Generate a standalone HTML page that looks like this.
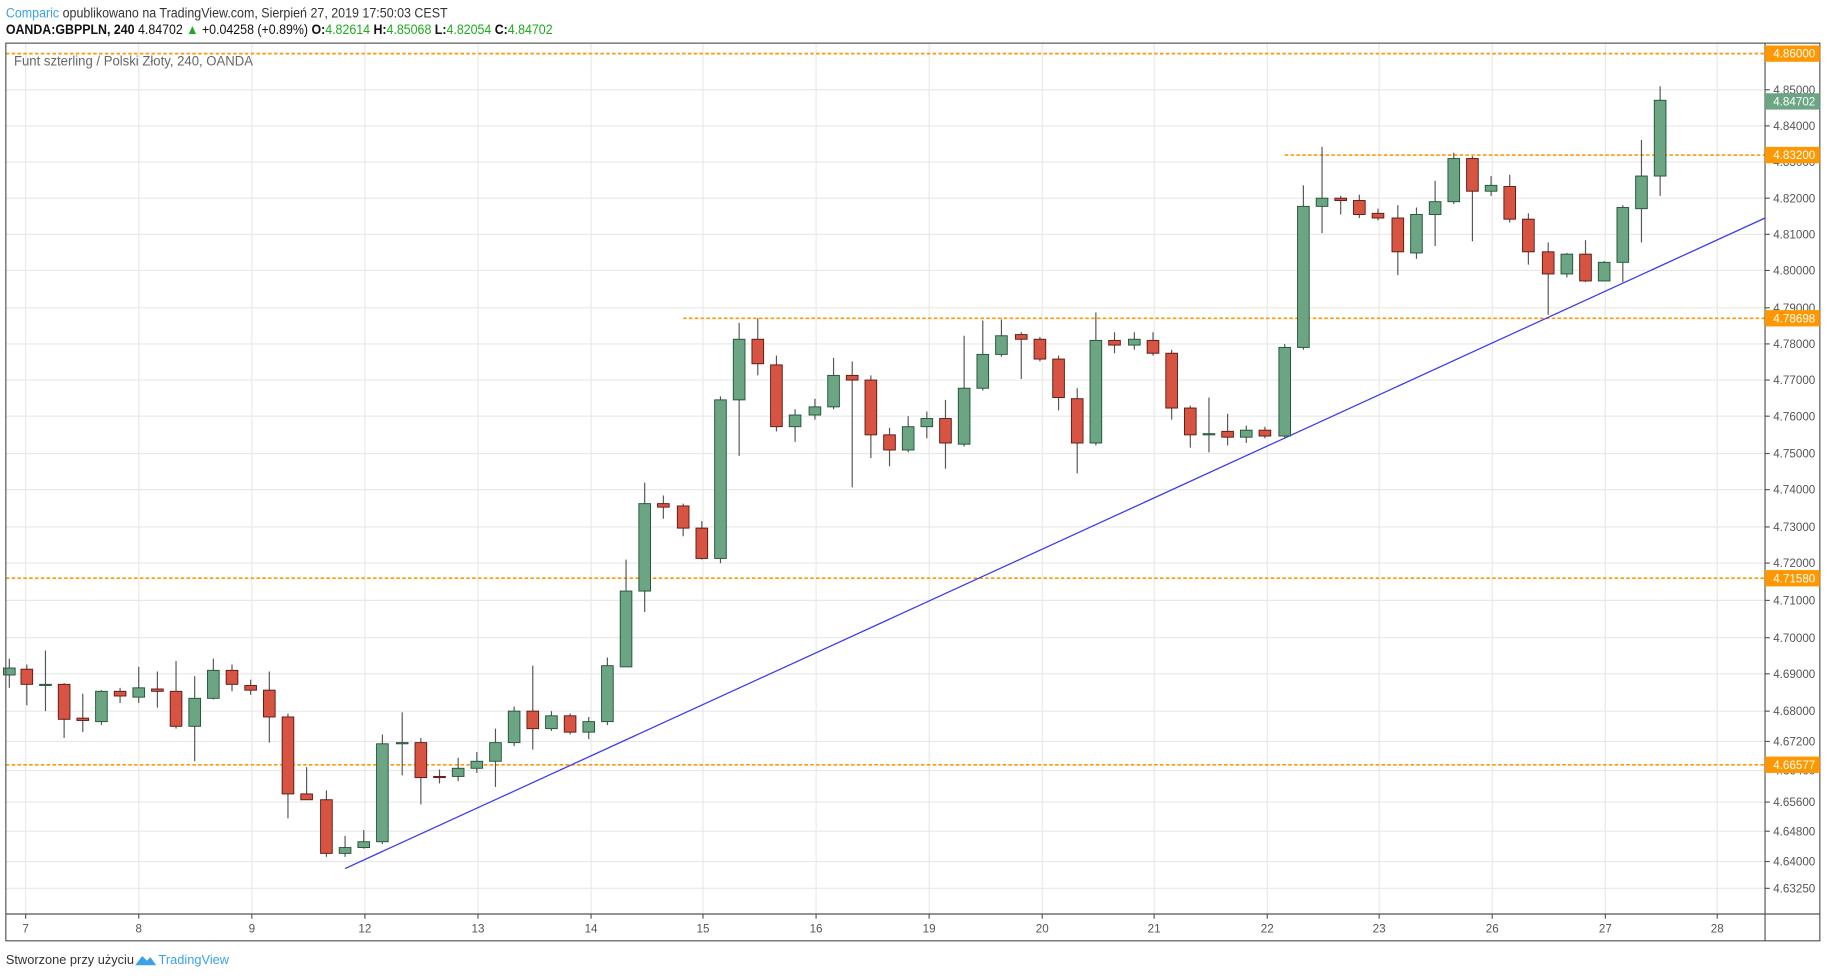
<!DOCTYPE html>
<html><head><meta charset="utf-8"><style>
html,body{margin:0;padding:0;background:#fff;width:1828px;height:978px;overflow:hidden}
svg{display:block;font-family:"Liberation Sans","DejaVu Sans",sans-serif}
</style></head><body>
<svg id="s" width="1828" height="978" viewBox="0 0 1568 838.9" xmlns="http://www.w3.org/2000/svg">
<rect width="1568" height="839" fill="#fff"/>
<g id="grid"></g>
<g id="lines"></g>
<g id="candles"></g>
<g id="axes"></g>
<text x="5" y="15" font-size="11.5" fill="#333" textLength="379" lengthAdjust="spacingAndGlyphs"><tspan fill="#3ca1e6">Comparic</tspan> opublikowano na TradingView.com, Sierpień 27, 2019 17:50:03 CEST</text>
<text x="5" y="29" font-size="11.5" fill="#111" textLength="469" lengthAdjust="spacingAndGlyphs"><tspan font-weight="bold">OANDA:GBPPLN, 240</tspan> 4.84702 <tspan fill="#1faa1f">▲</tspan> +0.04258 (+0.89%) <tspan font-weight="bold">O:</tspan><tspan fill="#1faa1f">4.82614</tspan> <tspan font-weight="bold">H:</tspan><tspan fill="#1faa1f">4.85068</tspan> <tspan font-weight="bold">L:</tspan><tspan fill="#1faa1f">4.82054</tspan> <tspan font-weight="bold">C:</tspan><tspan fill="#1faa1f">4.84702</tspan></text>
<text x="12" y="56" font-size="11.5" fill="#666" textLength="205" lengthAdjust="spacingAndGlyphs">Funt szterling / Polski Złoty, 240, OANDA</text>
<text x="5" y="827" font-size="11" fill="#333">Stworzone przy użyciu</text>
<path d="M116 828 l6 -8 l4 4 l3 -3 l5 7 z" fill="#3ca1e6"/>
<text x="136" y="827" font-size="11" fill="#3ca1e6">TradingView</text>
</svg>
<script>
const NS="http://www.w3.org/2000/svg";
function el(p,t,a,txt){const e=document.createElementNS(NS,t);for(const k in a)e.setAttribute(k,a[k]);if(txt!==undefined)e.textContent=txt;document.getElementById(p).appendChild(e);return e;}
const L=5,T=37,R=1514,B=784,AR=1561,TB=807;
const days=[[22,"7"],[119,"8"],[216,"9"],[313,"12"],[410,"13"],[507,"14"],[603,"15"],[700,"16"],[797,"19"],[894,"20"],[990,"21"],[1087,"22"],[1183,"23"],[1280,"26"],[1377,"27"],[1473,"28"]];
const prices=[[77,"4.85000"],[108,"4.84000"],[139,"4.83000"],[170,"4.82000"],[201,"4.81000"],[232,"4.80000"],[264,"4.79000"],[295,"4.78000"],[326,"4.77000"],[357,"4.76000"],[389,"4.75000"],[420,"4.74000"],[452,"4.73000"],[483,"4.72000"],[515,"4.71000"],[547,"4.70000"],[578,"4.69000"],[610,"4.68000"],[636,"4.67200"],[661,"4.66400"],[688,"4.65600"],[713,"4.64800"],[739,"4.64000"],[762,"4.63250"]];
days.forEach(d=>{el("grid","line",{x1:d[0],x2:d[0],y1:T,y2:B,stroke:"#e8e8e8","stroke-width":1});
 el("axes","line",{x1:d[0],x2:d[0],y1:B,y2:B+4,stroke:"#555"});
 el("axes","text",{x:d[0],y:800,"font-size":10,"text-anchor":"middle",fill:"#555"},d[1]);});
prices.forEach(p=>{el("grid","line",{x1:L,x2:R,y1:p[0],y2:p[0],stroke:"#e8e8e8","stroke-width":1});
 el("axes","line",{x1:R,x2:R+4,y1:p[0],y2:p[0],stroke:"#555"});
 el("axes","text",{x:R+7,y:p[0]+3.5,"font-size":10,fill:"#555"},p[1]);});
el("axes","rect",{x:L,y:T,width:AR-L,height:TB-T,fill:"none",stroke:"#555","stroke-width":1});
el("axes","line",{x1:R,x2:R,y1:T,y2:TB,stroke:"#555"});
el("axes","line",{x1:L,x2:AR,y1:B,y2:B,stroke:"#555"});
[[46,L,"4.86000"],[133,1102,"4.83200"],[273,586,"4.78698"],[496,L,"4.71580"],[656,L,"4.66577"]].forEach(o=>{
 el("lines","line",{x1:o[1],x2:R,y1:o[0],y2:o[0],stroke:"#ff9800","stroke-width":1.4,"stroke-dasharray":"3,2"});
 el("axes","rect",{x:R,y:o[0]-7,width:AR-R,height:14,fill:"#ff9800"});
 el("axes","text",{x:R+7,y:o[0]+3.5,"font-size":10,fill:"#fff"},o[2]);});
el("axes","rect",{x:R,y:80,width:AR-R,height:14,fill:"#6ba583"});
el("axes","text",{x:R+7,y:90.5,"font-size":10,fill:"#fff"},"4.84702");
el("lines","line",{x1:296,y1:745,x2:1514,y2:187,stroke:"#3b3bef","stroke-width":1.1});
const C=[[8,579,573,565,590],[23,574,587,570,605],[39,587,587,558,610],[55,587,617,586,633],[71,616,618,595,628],[87,619,593,592,622],[103,593,597,590,603],[119,598,590,572,603],[135,591,593,576,607],[151,593,623,567,625],[167,623,599,580,653],[183,599,575,565,600],[199,575,587,570,593],[215,588,592,583,596],[231,592,615,576,637],[247,615,681,612,702],[263,681,686,658,686],[280,686,732,678,735],[296,732,727,717,735],[312,727,722,712,728],[328,722,638,630,724],[345,637,637,611,665],[361,637,667,633,690],[377,666,667,660,672],[393,666,659,650,670],[409,659,653,645,663],[425,653,637,625,675],[441,637,610,606,640],[457,610,625,571,643],[473,625,614,610,627],[489,614,628,612,630],[505,628,619,615,634],[521,619,571,564,622],[537,572,507,480,572],[553,507,432,414,525],[569,432,435,425,445],[586,434,453,432,460],[602,453,479,447,480],[618,479,343,340,483],[634,343,291,277,391],[650,291,312,273,322],[666,313,366,305,370],[682,366,356,351,379],[699,356,349,342,360],[715,349,322,307,351],[731,322,326,310,418],[747,326,373,322,393],[763,373,386,367,400],[779,386,366,357,388],[795,366,359,353,376],[811,359,380,343,402],[827,381,333,288,383],[843,333,304,275,335],[859,304,288,274,306],[876,287,291,285,325],[892,291,308,289,310],[908,308,341,305,352],[924,342,380,333,406],[940,380,292,268,382],[956,292,296,285,303],[973,296,291,285,300],[989,292,303,285,305],[1005,303,350,300,360],[1021,350,373,348,384],[1037,372,372,341,388],[1053,370,375,355,382],[1069,375,369,365,380],[1085,369,374,366,376],[1102,374,298,295,376],[1118,298,177,159,300],[1134,177,170,126,200],[1150,170,172,168,184],[1166,172,184,167,187],[1182,183,187,179,189],[1199,187,216,176,236],[1215,217,184,178,222],[1231,184,173,155,211],[1247,173,136,131,175],[1263,136,164,134,207],[1279,164,159,151,168],[1295,160,188,150,191],[1311,188,216,183,227],[1328,216,235,208,270],[1344,235,218,217,238],[1360,218,241,206,242],[1376,241,225,224,241],[1392,225,178,176,242],[1408,179,151,120,208],[1424,151,86,74,168]];
C.forEach(c=>{const [x,o,cl,h,l]=c;const up=cl<=o;
 el("candles","line",{x1:x,x2:x,y1:h,y2:l,stroke:"#555","stroke-width":1});
 const top=Math.min(o,cl),ht=Math.max(1,Math.abs(o-cl));
 el("candles","rect",{x:x-5,y:top,width:10,height:ht,fill:up?"#6ba583":"#d75442",stroke:up?"#225437":"#5b1a13","stroke-width":0.8});});
</script>
</body></html>
